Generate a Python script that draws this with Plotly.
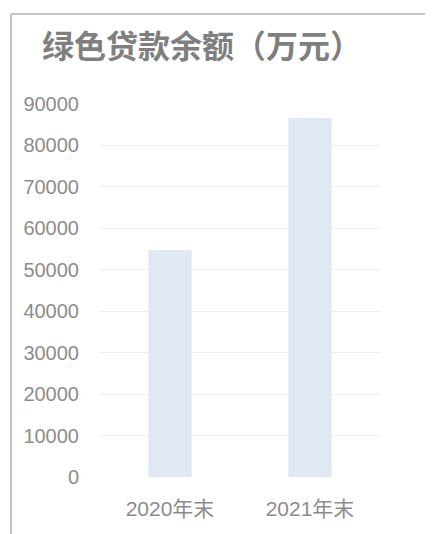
import plotly.graph_objects as go

categories = ["2020年末", "2021年末"]
values = [54800, 86600]
y_ticks = [0, 10000, 20000, 30000, 40000, 50000, 60000, 70000, 80000, 90000]
title_text = "绿色贷款余额（万元）"

W, H = 433, 534
OFF = 8  # page offset of the figure in the browser
L, T = 100 - OFF, 104 - OFF
pw, ph = 280, 373
R, B = W - L - pw, H - T - ph

fig = go.Figure(go.Bar(
    x=categories, y=values, width=0.31,
    marker=dict(color="#dfe8f3", line=dict(width=0)),
))

cjk = "Noto Sans CJK SC"
tick_font = "Liberation Sans, Noto Sans CJK SC"
fig.update_layout(
    width=W, height=H,
    margin=dict(l=L, r=R, t=T, b=B),
    paper_bgcolor="white", plot_bgcolor="white",
    showlegend=False,
    font=dict(family=tick_font, color="#8c8c8c", size=20),
    title=dict(text="<b>" + title_text + "</b>", x=(42 - OFF) / W, xanchor="left",
               y=1 - (47 - OFF) / H, yanchor="middle",
               font=dict(size=32, color="#7f7f7f", family=cjk)),
)
fig.update_xaxes(
    range=[-0.5, 1.5], showgrid=False, showline=False, zeroline=False,
    ticks="", ticklabelstandoff=17, tickfont=dict(size=21, color="#8c8c8c", family=tick_font),
)
fig.update_yaxes(
    range=[0, 90000], tickvals=y_ticks, ticktext=[str(v) for v in y_ticks],
    showgrid=True, gridcolor="#efefef", gridwidth=1,
    zeroline=False, showline=False, ticks="", ticklabelstandoff=20,
    tickfont=dict(size=20, color="#8c8c8c", family=tick_font),
)
# chart frame (top and left edges)
fx0 = (11 - OFF - L) / pw
fy1 = (H - B - (14 - OFF)) / ph
fy0 = (H - B - H) / ph
fx1 = (431 - OFF - L) / pw
fig.add_shape(type="line", xref="paper", yref="paper", x0=fx0, x1=fx1, y0=fy1, y1=fy1,
              line=dict(color="#c4c4c4", width=2))
fig.add_shape(type="line", xref="paper", yref="paper", x0=fx0, x1=fx0, y0=fy0, y1=fy1,
              line=dict(color="#c4c4c4", width=2))

fig.write_html("out.html")
